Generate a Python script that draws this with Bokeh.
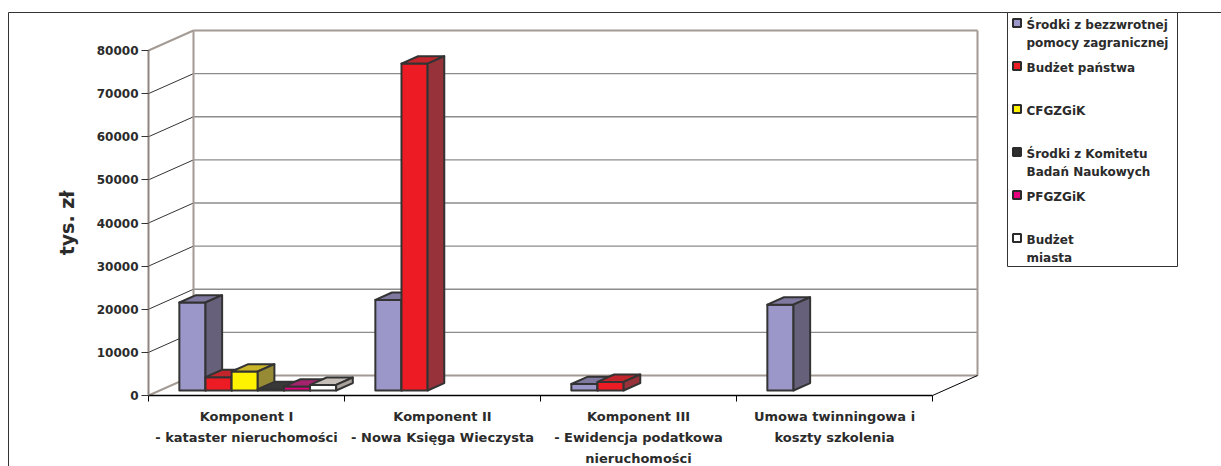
from bokeh.plotting import figure
from bokeh.models import Range1d, LinearAxis, FixedTicker
from bokeh.core.properties import value
from bokeh.embed import file_html
from bokeh.resources import INLINE

# ---- data (tys. zł) ----
categories = [
    "Komponent I\n- kataster nieruchomości",
    "Komponent II\n- Nowa Księga Wieczysta",
    "Komponent III\n- Ewidencja podatkowa\nnieruchomości",
    "Umowa twinningowa i\nkoszty szkolenia",
]
series_names = [
    "Środki z bezzwrotnej\npomocy zagranicznej",
    "Budżet państwa",
    "CFGZGiK",
    " Środki z Komitetu\nBadań Naukowych",
    "PFGZGiK",
    "Budżet\nmiasta",
]
srodki_pomocy = [20400, 21000, 1500, 19900]
budzet_panstwa = [3100, 75800, 2000, None]
cfgzgik = [4400, None, None, None]
srodki_kbn = [300, None, None, None]
pfgzgik = [900, None, None, None]
budzet_miasta = [1300, None, None, None]
value_ticks = [0, 10000, 20000, 30000, 40000, 50000, 60000, 70000, 80000]

series_values = [srodki_pomocy, budzet_panstwa, cfgzgik, srodki_kbn, pfgzgik, budzet_miasta]

# face colours per series: front, top, side
face_colors = [
    ("#9b97c9", "#7f799f", "#67607a"),
    ("#ed1c24", "#c2262c", "#97323a"),
    ("#fff200", "#c9b52a", "#978a35"),
    ("#2e2e2e", "#383838", "#262626"),
    ("#e5007e", "#a3246c", "#7d1f56"),
    ("#ffffff", "#c5bdb7", "#a9a19b"),
]

# ---- layout (pixels) ----
W, H = 1221, 466
AXIS_PX = 148          # left end of the floor / value axis
ZERO_PY = 395          # value 0 on the front plane
TOP_PY = 50            # value 80000 on the front plane
CAT_PX = 196           # width of one category
DEPTH_PX = (45, 20)    # offset of the back wall
GAP = 1.5              # gap between clusters, in bar widths
BAR_FRONT, BAR_BACK = 0.25, 0.62   # bar depth as fraction of the floor depth

VPP = value_ticks[-1] / (ZERO_PY - TOP_PY)


def X(px):
    return (px - AXIS_PX) / CAT_PX - 0.5


def Y(py):
    return (ZERO_PY - py) * VPP


DX = DEPTH_PX[0] / CAT_PX
DY = DEPTH_PX[1] * VPP
n_cat = len(categories)
x_lo, x_hi = -0.5, n_cat - 0.5
v_max = value_ticks[-1]

p = figure(width=W, height=H, output_backend="svg", toolbar_location=None,
           x_range=Range1d(X(0), X(W)), y_range=Range1d(Y(H), Y(0)),
           x_axis_location=None, y_axis_location=None,
           min_border=0, min_border_left=0, min_border_right=0,
           min_border_top=0, min_border_bottom=0)
p.outline_line_color = None
p.grid.visible = False
p.background_fill_color = "white"
p.border_fill_color = "white"

TAN = "#a39a93"
GRID = "#8c8c8c"
INK = "#333333"

# ---- walls and gridlines ----
for t in value_ticks:
    edge = t in (value_ticks[0], value_ticks[-1])
    p.line([x_lo + DX, x_hi + DX], [t + DY, t + DY],
           line_color=TAN if edge else GRID, line_width=2 if edge else 1.3)
    p.line([x_lo, x_lo + DX], [t, t + DY],
           line_color=TAN if edge else INK, line_width=2 if edge else 1)
for xe in (x_lo + DX, x_hi + DX):
    p.line([xe, xe], [DY, v_max + DY], line_color=TAN, line_width=2)
p.line([x_hi, x_hi + DX], [0, DY], line_color="black", line_width=1)

# ---- 3D bars ----
bw = 1.0 / (len(series_values) + GAP)
ox = (BAR_BACK - BAR_FRONT) * DX
oy = (BAR_BACK - BAR_FRONT) * DY
xs, ys, fills = [], [], []
for i in range(n_cat):
    for j, vals in enumerate(series_values):
        v = vals[i]
        if v is None:
            continue
        x0 = i - 0.5 + (GAP / 2 + j) * bw + BAR_FRONT * DX
        x1 = x0 + bw
        y0 = BAR_FRONT * DY
        y1 = y0 + v
        front, top, side = face_colors[j]
        xs += [[x0, x1, x1, x0], [x0, x1, x1 + ox, x0 + ox], [x1, x1 + ox, x1 + ox, x1]]
        ys += [[y0, y0, y1, y1], [y1, y1, y1 + oy, y1 + oy], [y0, y0 + oy, y1 + oy, y1]]
        fills += [front, top, side]
p.patches(xs, ys, fill_color=fills, line_color="#333333", line_width=2, line_join="round")

# ---- value axis ----
yaxis = LinearAxis(fixed_location=x_lo, bounds=(0, v_max),
                   ticker=FixedTicker(ticks=value_ticks))
yaxis.axis_line_color = "#8f8580"
yaxis.axis_line_width = 2
yaxis.major_tick_out = 7
yaxis.major_tick_in = 0
yaxis.major_tick_line_color = INK
yaxis.minor_tick_line_color = None
yaxis.major_label_standoff = 3
yaxis.major_label_text_font = "DejaVu Sans"
yaxis.major_label_text_font_style = "bold"
yaxis.major_label_text_font_size = "12px"
yaxis.major_label_text_color = "#2b2b2b"
yaxis.axis_label = "tys. zł"
yaxis.axis_label_text_font = "DejaVu Sans"
yaxis.axis_label_text_font_style = "bold"
yaxis.axis_label_text_font_size = "19px"
yaxis.axis_label_text_color = "#2b2b2b"
yaxis.axis_label_standoff = 16
p.add_layout(yaxis, "left")

# ---- category axis ----
xaxis = LinearAxis(fixed_location=0, bounds=(x_lo, x_hi),
                   ticker=FixedTicker(ticks=list(range(n_cat)),
                                      minor_ticks=[k - 0.5 for k in range(n_cat + 1)]))
xaxis.major_label_overrides = {k: c for k, c in enumerate(categories)}
xaxis.axis_line_color = "black"
xaxis.axis_line_width = 1.5
xaxis.major_tick_line_color = None
xaxis.minor_tick_line_color = "black"
xaxis.minor_tick_out = 6
xaxis.minor_tick_in = 0
xaxis.major_label_standoff = 7
xaxis.major_label_text_font = "DejaVu Sans"
xaxis.major_label_text_font_style = "bold"
xaxis.major_label_text_font_size = "13px"
xaxis.major_label_text_color = "#2b2b2b"
xaxis.major_label_text_line_height = 1.42
p.add_layout(xaxis, "below")

# ---- chart border ----
p.line([X(8), X(8), X(W + 5)], [Y(H + 5), Y(12), Y(12)], line_color=INK, line_width=1)

# ---- legend ----
LEG = (1007, 12, 1177, 266)
p.quad(left=X(LEG[0]), right=X(LEG[2]), top=Y(LEG[1]), bottom=Y(LEG[3]),
       fill_color="white", line_color=INK, line_width=1)
step = 43
for k, name in enumerate(series_names):
    p.scatter([X(1016.5)], [Y(22.5 + k * step)], marker="square", size=8,
              fill_color=face_colors[k][0], line_color="#2b2b2b", line_width=2)
    lines = name.split("\n")
    p.text([X(1026)] * len(lines),
           [Y(24 + k * step + m * 18) for m in range(len(lines))],
           text=lines, text_font=value("DejaVu Sans"), text_font_style="bold",
           text_font_size="12px", text_color="#2b2b2b", text_baseline="middle")

open("out.html", "w").write(file_html(p, INLINE))
